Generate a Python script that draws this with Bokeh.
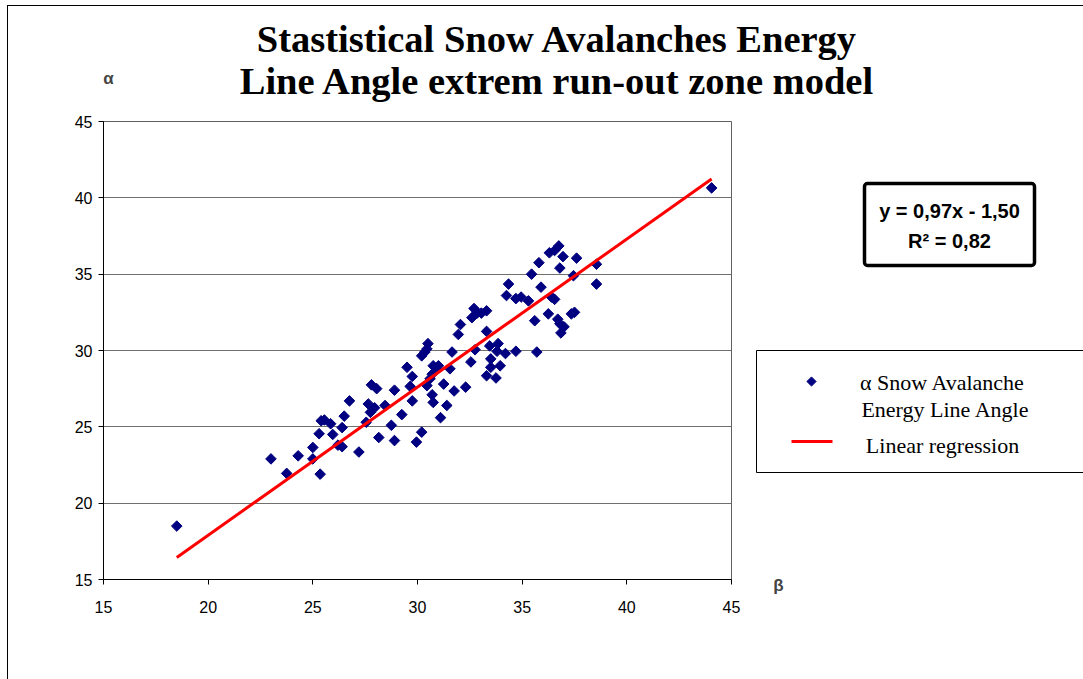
import numpy as np
from bokeh.plotting import figure
from bokeh.layouts import column, row
from bokeh.models import Label, BoxAnnotation, Range1d, FixedTicker
from bokeh.embed import file_html
from bokeh.resources import INLINE

# ---- data ----
beta = [18.5, 23.0, 23.75, 24.3, 25.0, 25.0, 25.35, 25.3, 25.4, 25.55,
        25.85, 25.95, 26.2, 26.4, 26.4, 26.5, 26.75, 27.2, 27.55, 27.65,
        27.75, 27.8, 28.05, 27.95, 28.15, 28.45, 28.75, 28.9, 28.9, 29.25,
        32.05, 31.95, 33.3, 30.5, 30.45, 30.2, 30.35, 31.65, 32.75, 33.45,
        33.85, 33.8, 34.2, 34.7, 33.5, 33.95, 33.5, 33.3, 33.75, 32.55,
        29.5, 30.75, 31.0, 31.55, 29.75, 30.7, 30.6, 30.9, 31.25, 30.45,
        29.65, 31.75, 32.3, 30.7, 30.75, 29.75, 31.4, 31.1, 30.2, 29.95,
        32.6, 32.7, 32.85, 33.05, 33.3, 34.25, 34.7, 34.95, 35.3, 36.4,
        36.55, 36.25, 35.6, 36.7, 36.8, 37.0, 36.85, 37.35, 37.5, 35.7,
        36.75, 36.55, 36.3, 36.95, 37.6, 35.8, 36.8, 38.55, 35.45, 37.45,
        38.55, 35.9, 34.35, 44.05]
alpha = [18.5, 22.9, 21.95, 23.1, 23.65, 22.9, 21.9, 24.55, 25.4, 25.45,
         25.2, 24.5, 23.8, 23.7, 24.95, 25.7, 26.7, 23.35, 25.3, 26.5,
         25.95, 27.75, 27.5, 26.25, 24.3, 26.4, 25.1, 24.1, 27.4, 25.8,
         31.7, 31.05, 31.25, 30.45, 30.1, 29.65, 29.9, 29.9, 30.05, 30.3,
         30.45, 29.95, 29.8, 29.95, 29.45, 29.0, 28.9, 28.35, 28.2, 29.25,
         28.9, 29.0, 29.0, 28.8, 28.3, 28.45, 28.15, 28.8, 27.8, 27.7,
         27.65, 27.35, 27.6, 27.1, 26.6, 26.7, 26.4, 25.6, 24.65, 24.0,
         32.15, 32.75, 32.45, 32.45, 32.6, 33.6, 33.4, 33.5, 33.25, 33.5,
         33.35, 32.4, 31.95, 32.05, 31.75, 31.55, 31.15, 32.4, 32.5, 29.9,
         36.85, 36.55, 36.4, 36.15, 36.05, 35.75, 35.4, 35.65, 35.0, 34.9,
         34.35, 34.15, 34.35, 40.65]
slope = 0.97
intercept = -1.50
x_ticks = [15, 20, 25, 30, 35, 40, 45]
y_ticks = [15, 20, 25, 30, 35, 40, 45]

title_lines = ["Stastistical Snow Avalanches Energy",
               "Line Angle extrem run-out zone model"]
eq_lines = ["y = 0,97x - 1,50", "R\u00b2 = 0,82"]
legend_lines = ["\u03b1 Snow Avalanche", "Energy Line Angle", "Linear regression"]

NAVY = "#000080"
RED = "#ff0000"


def no_align(f):
    if "frame_align" in f.properties():
        f.frame_align = False
    return f


def blank(w, h, x0, y0):
    """Figure whose data units are page pixels (y downwards)."""
    f = figure(width=w, height=h, output_backend="svg", toolbar_location=None,
               x_range=Range1d(x0, x0 + w), y_range=Range1d(y0 + h, y0),
               min_border=0, x_axis_location=None, y_axis_location=None)
    f.grid.visible = False
    f.outline_line_color = None
    f.title.visible = False
    f.background_fill_color = "white"
    f.border_fill_color = "white"
    return no_align(f)


# ---------------- title strip ----------------
top = blank(1075, 105, 8, 6)
for txt, yv in zip(title_lines, [38, 80]):
    top.add_layout(Label(x=557, y=yv, text=txt, text_align="center",
                         text_baseline="middle", text_font="Liberation Serif",
                         text_font_style="bold", text_font_size="38.5px",
                         text_color="black"))
top.add_layout(Label(x=108, y=78, text="\u03b1", text_align="center",
                     text_baseline="middle", text_font="Liberation Sans",
                     text_font_style="bold", text_font_size="17px"))

# ---------------- main chart ----------------
p = figure(width=735, height=568, output_backend="svg", toolbar_location=None,
           x_range=Range1d(15, 45), y_range=Range1d(15, 45),
           min_border_left=95, min_border_right=12,
           min_border_top=10, min_border_bottom=100)
no_align(p)
p.title.visible = False
p.background_fill_color = "white"
p.border_fill_color = "white"
p.outline_line_color = "#606060"
p.xaxis.ticker = FixedTicker(ticks=x_ticks)
p.yaxis.ticker = FixedTicker(ticks=y_ticks)
p.xgrid.visible = False
p.ygrid.grid_line_color = "#707070"
p.ygrid.grid_line_width = 1
for ax in (p.xaxis[0], p.yaxis[0]):
    ax.axis_line_color = "black"
    ax.major_tick_line_color = "black"
    ax.major_tick_out = 5
    ax.major_tick_in = 0
    ax.minor_tick_line_color = None
    ax.major_label_text_font = "Liberation Sans"
    ax.major_label_text_font_size = "16px"
    ax.major_label_text_color = "black"
p.xaxis.major_label_standoff = 16
p.yaxis.major_label_standoff = 6

p.scatter(beta, alpha, marker="square", angle=np.pi / 4, size=7.5,
          color=NAVY)
xl = [min(beta), max(beta)]
yl = [slope * v + intercept for v in xl]
p.line(xl, yl, line_color=RED, line_width=3)

# ---------------- right strip (equation, legend, beta) ----------------
rt = blank(340, 568, 743, 111)
rt.add_layout(BoxAnnotation(left=864, right=1034, top=183, bottom=265,
                            fill_color="white", fill_alpha=1,
                            line_color="black", line_alpha=1, line_width=3.5,
                            border_radius=3))
for txt, yv in zip(eq_lines, [210, 240]):
    rt.add_layout(Label(x=949, y=yv, text=txt, text_align="center",
                        text_baseline="middle", text_font="Liberation Sans",
                        text_font_style="bold", text_font_size="20px",
                        text_color="black"))
rt.add_layout(BoxAnnotation(left=756, right=1120, top=350, bottom=472,
                            fill_alpha=0, line_color="black", line_alpha=1,
                            line_width=1))
# legend keys
rt.scatter([811], [381], marker="square", angle=np.pi / 4, size=6.5,
           color=NAVY)
rt.line([791, 832], [441, 441], line_color=RED, line_width=3)
for txt, xv, yv in zip(legend_lines, [942, 945, 942], [382, 409, 445]):
    rt.add_layout(Label(x=xv, y=yv, text=txt, text_align="center",
                        text_baseline="middle", text_font="Liberation Serif",
                        text_font_size="22px", text_color="black"))
rt.add_layout(Label(x=778, y=585, text="\u03b2", text_align="center",
                    text_baseline="middle", text_font="Liberation Sans",
                    text_font_style="bold", text_font_size="17px"))

root = column(top, row(p, rt, spacing=0), spacing=0)
root.styles = {"margin-left": "7px", "margin-top": "5px",
               "border-left": "1px solid black",
               "border-top": "1px solid black"}

open("out.html", "w").write(file_html(root, INLINE))
